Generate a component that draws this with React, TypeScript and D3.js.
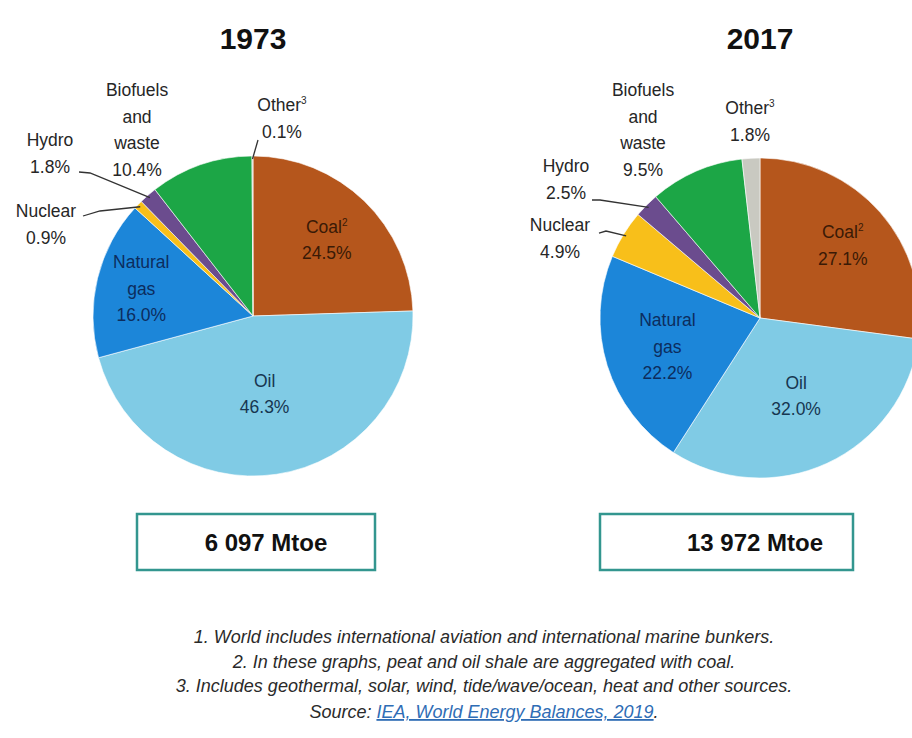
import * as d3 from 'd3';

// energy sources in clockwise order from 12 o'clock
const sources = ['Coal', 'Oil', 'Natural gas', 'Nuclear', 'Hydro', 'Biofuels and waste', 'Other'];
const shares1973 = [24.5, 46.3, 16.0, 0.9, 1.8, 10.4, 0.1];
const shares2017 = [27.1, 32.0, 22.2, 4.9, 2.5, 9.5, 1.8];
const years = ['1973', '2017'];
const totals = ['6 097 Mtoe', '13 972 Mtoe'];
const footnotes = [
  '1. World includes international aviation and international marine bunkers.',
  '2. In these graphs, peat and oil shale are aggregated with coal.',
  '3. Includes geothermal, solar, wind, tide/wave/ocean, heat and other sources.',
];
const sourceLink = 'IEA, World Energy Balances, 2019';

const colors = ['#b5561c', '#80cbe5', '#1c86d9', '#f8bf1a', '#6b4c8e', '#1ca646', '#c9c9c1'];
const innerText = ['#3a1a06', '#173650', '#0c2d5e'];
const FONT = '"Liberation Sans", Arial, sans-serif';
const R = 160;

// label placement per pie (index = slice)
const layouts = [
  {
    cx: 253, cy: 316,
    inside: { 0: 106, 1: 79, 2: 115 } as Record<number, number>,
    outside: [
      { i: 5, x: 137, y: 96, lines: ['Biofuels', 'and', 'waste'] },
      { i: 4, x: 50, y: 146, lines: ['Hydro'], leader: [[79, 172], [90, 173]] },
      { i: 3, x: 46, y: 217, lines: ['Nuclear'], leader: [[83, 216], [100, 211]] },
      { i: 6, x: 282, y: 111, lines: ['Other'], sup: '3', leader: [[258, 140]] },
    ],
  },
  {
    cx: 760, cy: 318,
    inside: { 0: 110, 1: 86, 2: 97 } as Record<number, number>,
    outside: [
      { i: 5, x: 643, y: 96, lines: ['Biofuels', 'and', 'waste'] },
      { i: 4, x: 566, y: 172, lines: ['Hydro'], leader: [[592, 200], [600, 200]] },
      { i: 3, x: 560, y: 231, lines: ['Nuclear'], leader: [[599, 233], [606, 231]] },
      { i: 6, x: 750, y: 114, lines: ['Other'], sup: '3', leader: null },
    ],
  },
];
const LH = 26.5;

function Pie({ values, idx }: { values: number[]; idx: number }) {
  const L = layouts[idx];
  const arcs = d3.pie<number>().sort(null).value((d) => d)(values);
  const arc = d3.arc<d3.PieArcDatum<number>>().innerRadius(0).outerRadius(R);
  const fmt = (v: number) => v.toFixed(1) + '%';
  const line = d3.line();

  return (
    <g transform={`translate(${L.cx},${L.cy})`}>
      {arcs.map((a, i) => (
        <path key={i} d={arc(a) || ''} fill={colors[i]} stroke="#ffffff" strokeWidth={0.6} />
      ))}
      {arcs.map((a, i) => {
        const r = L.inside[i];
        if (r === undefined) return null;
        const [x, y] = d3.arc<d3.PieArcDatum<number>>().innerRadius(r).outerRadius(r).centroid(a);
        const lines = i === 2 ? ['Natural', 'gas'] : [sources[i]];
        const all = [...lines, fmt(values[i])];
        const y0 = y - ((all.length - 1) * LH) / 2 + 6;
        return (
          <text key={'in' + i} x={x} textAnchor="middle" fontFamily={FONT} fontSize={17.5} fill={innerText[i]}>
            {all.map((t, k) => (
              <tspan key={k} x={x} y={y0 + k * LH}>
                {t}
                {i === 0 && k === 0 ? <tspan dy={-7} fontSize={10}>2</tspan> : null}
              </tspan>
            ))}
          </text>
        );
      })}
      {L.outside.map((o) => {
        const a = arcs[o.i];
        const all = [...o.lines, fmt(values[o.i])];
        const edge = d3.arc<d3.PieArcDatum<number>>().innerRadius(R - 3).outerRadius(R - 3).centroid(a);
        let pts: [number, number][] | null = null;
        if (o.leader) {
          pts = [...o.leader.map((p) => [p[0] - L.cx, p[1] - L.cy] as [number, number]), edge as [number, number]];
        }
        return (
          <g key={'out' + o.i}>
            {pts ? <path d={line(pts) || ''} fill="none" stroke="#333" strokeWidth={1.3} /> : null}
            <text textAnchor="middle" fontFamily={FONT} fontSize={17.5} fill="#262626">
              {all.map((t, k) => (
                <tspan key={k} x={o.x - L.cx} y={o.y - L.cy + k * LH}>
                  {t}
                  {o.sup && k === 0 ? <tspan dy={-7} fontSize={10}>{o.sup}</tspan> : null}
                </tspan>
              ))}
            </text>
          </g>
        );
      })}
    </g>
  );
}

export default function App() {
  const boxes = [
    { x: 137, w: 238, tx: 266 },
    { x: 600, w: 253, tx: 755 },
  ];
  return (
    <svg
      width={912}
      height={738}
      style={{ position: 'absolute', left: 0, top: 0, background: '#ffffff' }}
    >
      <rect width={912} height={738} fill="#ffffff" />
      {years.map((y, i) => (
        <text
          key={y}
          x={layouts[i].cx}
          y={49}
          textAnchor="middle"
          fontFamily={FONT}
          fontWeight="bold"
          fontSize={30}
          fill="#111"
        >
          {y}
        </text>
      ))}
      <Pie values={shares1973} idx={0} />
      <Pie values={shares2017} idx={1} />
      {totals.map((t, i) => (
        <g key={t}>
          <rect x={boxes[i].x} y={514} width={boxes[i].w} height={56} fill="#fff" stroke="#33968f" strokeWidth={2.5} />
          <text x={boxes[i].tx} y={551} textAnchor="middle" fontFamily={FONT} fontWeight="bold" fontSize={24} fill="#111">
            {t}
          </text>
        </g>
      ))}
      {footnotes.map((f, i) => (
        <text key={i} x={484} y={643 + i * 24.5} textAnchor="middle" fontFamily={FONT} fontStyle="italic" fontSize={18} fill="#2a2a2a">
          {f}
        </text>
      ))}
      <text x={484} y={718} textAnchor="middle" fontFamily={FONT} fontStyle="italic" fontSize={18} fill="#2a2a2a">
        Source:{' '}
        <tspan fill="#2f6db5" textDecoration="underline">{sourceLink}</tspan>.
      </text>
    </svg>
  );
}
